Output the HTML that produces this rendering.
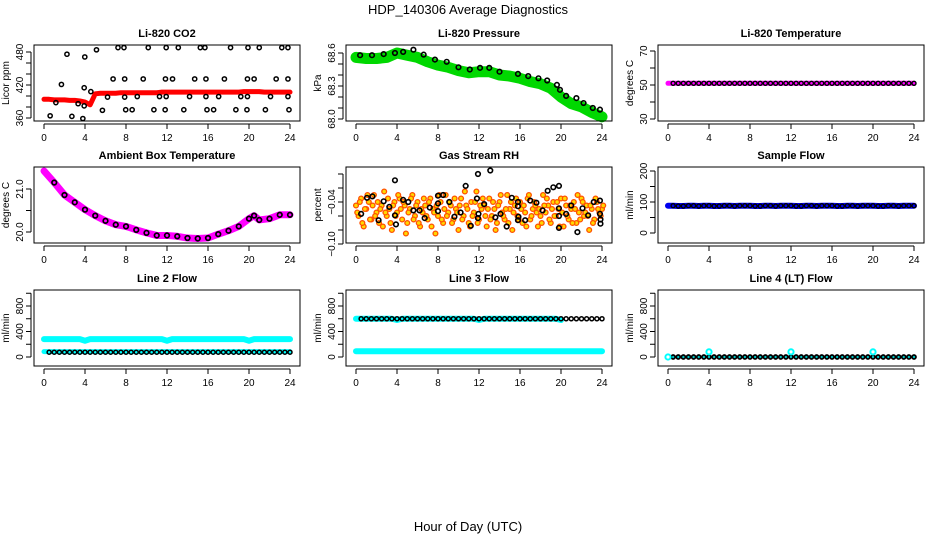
<!DOCTYPE html>
<html><head><meta charset="utf-8"><style>
html,body{margin:0;padding:0;background:#fff;}
svg{display:block;font-family:"Liberation Sans",sans-serif;}
</style></head><body>
<svg id="chart" width="936" height="540" viewBox="0 0 936 540" xmlns="http://www.w3.org/2000/svg">
<text x="468" y="14" text-anchor="middle" font-size="13">HDP_140306  Average Diagnostics</text>
<text x="468" y="531" text-anchor="middle" font-size="13">Hour of Day (UTC)</text>
</svg>
<script>
// ---------- data ----------
const xTicks = [0,4,8,12,16,20,24];
// CO2
const co2Red = [394,394,393,393,393,392,392,391,389,384,404,405,405,405,405,406,406,406,406,406,406,406,406,407,407,407,407,407,407,407,407,407,407,407,407,407,407,407,407,408,408,408,408,407,407,407,407,407,407];
const co2Hours = [0.6,2.24,1.16,1.7,2.72,3.33,3.79,3.98,3.92,3.92,4.57,5.12,5.7,6.2,6.74,7.22,7.8,7.87,7.87,7.97,8.6,9.1,9.68,10.17,10.72,11.27,11.82,11.85,11.92,11.92,12.54,13.1,13.64,14.2,14.7,15.25,15.7,15.8,15.9,15.8,16.55,17.04,17.6,18.2,18.72,19.2,19.8,19.85,19.85,19.9,20.5,21,21.6,22.1,22.65,23.2,23.8,23.8,23.8,23.9];
const co2Vals = [364,476,388,421,363,386,359,471,415,382,408,484,374,398,431,488,488,431,398,375,375,399,431,488,375,399,375,431,488,399,431,488,375,399,431,488,488,431,375,399,375,399,431,488,375,399,375,431,399,488,431,488,375,399,431,488,488,431,399,375];
// Pressure
const presGreen = [68.56,68.55,68.55,68.56,68.60,68.58,68.56,68.52,68.49,68.47,68.44,68.42,68.43,68.43,68.40,68.39,68.37,68.34,68.32,68.28,68.20,68.14,68.11,68.06,68.02];
const presHours = [0.4,1.56,2.7,3.8,4.6,5.6,6.6,7.7,8.85,10,11.1,12.1,13,14,15.8,16.8,17.8,18.65,19.6,19.9,20.5,21.5,22.2,23.1,23.8];
const presVals = [68.58,68.58,68.59,68.60,68.61,68.63,68.585,68.54,68.52,68.47,68.45,68.465,68.465,68.43,68.41,68.39,68.37,68.35,68.31,68.265,68.21,68.19,68.145,68.10,68.085];
// Li-820 temperature
const tempVals = [51,51,51,51,51,51,51,51,51,51,51,51,51,51,51,51,51,51,51,51,51,51,51,51,51,51,51,51,51,51,51,51,51,51,51,51,51,51,51,51,51,51,51,51,51,51,51,51,51];
// Ambient box temperature
const ambHours = [0,1,2,3,4,5,6,7,8,9,10,11,12,13,14,15,16,17,18,19,20,20.5,21,22,23,24];
const ambVals = [21.42,21.15,20.86,20.69,20.52,20.38,20.26,20.17,20.13,20.05,19.98,19.92,19.92,19.90,19.86,19.85,19.86,19.95,20.03,20.13,20.31,20.38,20.28,20.31,20.40,20.40];
// Gas stream RH (quarter-hour samples)
const rhA = [-0.045,-0.06,-0.035,-0.075,-0.05,-0.04,-0.065,-0.03,-0.055,-0.07,-0.045,-0.025,-0.06,-0.05,-0.08,-0.04,-0.055,-0.035,-0.065,-0.045,-0.07,-0.05,-0.03,-0.06,-0.04,-0.075,-0.055,-0.045,-0.065,-0.035,-0.05,-0.085,-0.06,-0.04,-0.07,-0.03,-0.055,-0.045,-0.065,-0.05,-0.08,-0.035,-0.06,-0.045,-0.07,-0.04,-0.055,-0.025,-0.065,-0.05,-0.045,-0.075,-0.035,-0.06,-0.05,-0.07,-0.04,-0.055,-0.065,-0.03,-0.05,-0.08,-0.045,-0.06,-0.04,-0.07,-0.055,-0.035,-0.065,-0.05,-0.045,-0.075,-0.06,-0.03,-0.055,-0.045,-0.07,-0.04,-0.06,-0.05,-0.035,-0.075,-0.045,-0.065,-0.05,-0.04,-0.07,-0.055,-0.035,-0.06,-0.045,-0.08,-0.05,-0.065,-0.04,-0.055,-0.05];
const rhB = [-0.055,-0.04,-0.07,-0.05,-0.03,-0.065,-0.045,-0.06,-0.04,-0.05,-0.075,-0.055,-0.035,-0.07,-0.045,-0.06,-0.03,-0.05,-0.04,-0.085,-0.055,-0.035,-0.065,-0.045,-0.07,-0.05,-0.035,-0.06,-0.04,-0.075,-0.055,-0.045,-0.03,-0.065,-0.05,-0.06,-0.04,-0.07,-0.035,-0.055,-0.045,-0.065,-0.025,-0.05,-0.075,-0.06,-0.04,-0.07,-0.045,-0.035,-0.06,-0.05,-0.065,-0.04,-0.08,-0.045,-0.03,-0.06,-0.05,-0.07,-0.04,-0.055,-0.035,-0.065,-0.05,-0.045,-0.075,-0.03,-0.06,-0.04,-0.055,-0.05,-0.07,-0.045,-0.035,-0.065,-0.05,-0.06,-0.04,-0.075,-0.055,-0.035,-0.06,-0.045,-0.07,-0.05,-0.03,-0.065,-0.04,-0.055,-0.06,-0.045,-0.07,-0.035,-0.05,-0.06,-0.045];
const rhBlackHours = [0.5,1.07,1.6,2.2,2.7,3.25,3.8,3.8,3.9,4.6,5.1,5.6,6.2,6.7,7.2,8,8,8,8.5,9.1,9.6,10.2,10.7,11.2,11.8,11.9,11.9,11.95,12.5,13.1,13.6,14.1,14.7,15.2,15.8,15.8,15.8,15.85,16.5,17,17.6,18.2,18.7,19.25,19.8,19.8,19.8,19.8,20.5,21,21.6,22.1,22.65,23.2,23.8,23.8,23.85,23.85];
const rhBlackVals = [-0.057,-0.034,-0.032,-0.066,-0.039,-0.047,-0.009,-0.059,-0.072,-0.037,-0.04,-0.052,-0.052,-0.063,-0.048,-0.031,-0.053,-0.042,-0.03,-0.04,-0.061,-0.055,-0.017,-0.074,-0.035,0.0,-0.063,-0.057,-0.043,0.005,-0.062,-0.057,-0.075,-0.034,-0.04,-0.046,-0.066,-0.061,-0.066,-0.038,-0.041,-0.052,-0.024,-0.019,-0.017,-0.049,-0.06,-0.077,-0.057,-0.045,-0.083,-0.049,-0.059,-0.04,-0.038,-0.057,-0.065,-0.071];
// Flows (half-hour samples)
const sampleFlow = [88,88,87,87,88,88,87,88,88,87,87,88,88,87,88,88,88,87,87,88,88,87,88,88,88,87,87,88,88,87,88,88,88,87,87,88,88,87,88,88,88,87,87,88,88,87,88,88,88];
const line2High = [280,280,280,280,280,280,280,280,255,280,280,280,280,280,280,280,280,280,280,280,280,280,280,280,255,280,280,280,280,280,280,280,280,280,280,280,280,280,280,280,255,280,280,280,280,280,280,280,280];
const line2Low = [85,85,85,85,85,85,85,85,85,85,85,85,85,85,85,85,85,85,85,85,85,85,85,85,85,85,85,85,85,85,85,85,85,85,85,85,85,85,85,85,85,85,85,85,85,85,85,85,85];
const line2Black = [75,75,75,75,75,75,75,75,75,75,75,75,75,75,75,75,75,75,75,75,75,75,75,75,75,75,75,75,75,75,75,75,75,75,75,75,75,75,75,75,75,75,75,75,75,75,75,75,75];
const line3High = [600,600,600,600,600,600,600,600,580,600,600,600,600,600,600,600,600,600,600,600,600,600,600,600,580,600,600,600,600,600,600,600,600,600,600,600,600,600,600,600,580];
const line3Black = [600,600,600,600,600,600,600,600,600,600,600,600,600,600,600,600,600,600,600,600,600,600,600,600,600,600,600,600,600,600,600,600,600,600,600,600,600,600,600,600,600,600,600,600,600,600,600,600,600];
const line3Low = [90,90,90,90,90,90,90,90,90,90,90,90,90,90,90,90,90,90,90,90,90,90,90,90,90,90,90,90,90,90,90,90,90,90,90,90,90,90,90,90,90,90,90,90,90,90,90,90,90];
const line4Black = [0,0,0,0,0,0,0,0,0,0,0,0,0,0,0,0,0,0,0,0,0,0,0,0,0,0,0,0,0,0,0,0,0,0,0,0,0,0,0,0,0,0,0,0,0,0,0,0,0];
const line4CyanHours = [0,4,12,20];
const line4CyanVals = [0,80,80,80];

// ---------- drawing ----------
const svg = document.getElementById('chart');
const NS = 'http://www.w3.org/2000/svg';
function mk(tag, attrs, parent){const e=document.createElementNS(NS,tag);for(const k in attrs)e.setAttribute(k,attrs[k]);(parent||svg).appendChild(e);return e;}
const colL=[34,346,658], rowT=[45,167,290], BW=266, BH=76;

function panel(col,row,title,ylab,yTicksArr,yLabArr,yA,yB,name){
  const L=colL[col], T=rowT[row], R=L+BW, B=T+BH;
  const g=mk('g',{});
  
  
  const xs=h=>L+10+h*(BW-20)/24;
  const ys=v=>yA[1]+(v-yA[0])*(yB[1]-yA[1])/(yB[0]-yA[0]);
  const t=mk('text',{x:(L+R)/2,y:T-8,'text-anchor':'middle','font-size':11,'font-weight':'bold'},g);t.textContent=title;
  
  
  const yl=mk('text',{x:0,y:0,'text-anchor':'middle','font-size':10,transform:`translate(${L-25},${(T+B)/2}) rotate(-90)`},g);yl.textContent=ylab;
  
  
  const plot=mk('g',{},g);
  
  
  const xa=mk('g',{},g);
  
  
  mk('line',{x1:xs(0),x2:xs(24),y1:B+3,y2:B+3,stroke:'#000','stroke-width':1},xa);
  xTicks.forEach(h=>{mk('line',{x1:xs(h),x2:xs(h),y1:B+3,y2:B+8,stroke:'#000'},xa);
    const tl=mk('text',{x:xs(h),y:B+20,'text-anchor':'middle','font-size':10},xa);tl.textContent=h;
    
    });
  const ya=mk('g',{},g);
  
  
  mk('line',{x1:L-3,x2:L-3,y1:ys(yTicksArr[0]),y2:ys(yTicksArr[yTicksArr.length-1]),stroke:'#000'},ya);
  yTicksArr.forEach(v=>mk('line',{x1:L-8,x2:L-3,y1:ys(v),y2:ys(v),stroke:'#000'},ya));
  yLabArr.forEach(([v,s])=>{const tl=mk('text',{x:0,y:0,'text-anchor':'middle','font-size':10,transform:`translate(${L-11},${ys(v)}) rotate(-90)`},ya);tl.textContent=s;
    
    });
  return {g,plot,xs,ys,L,T,R,B};
}
function frame(p){mk('rect',{x:p.L,y:p.T,width:BW,height:BH,fill:'none',stroke:'#000','stroke-width':1},p.g);}
function band(p,hours,vals,color,w,name){
  const pts=vals.map((v,i)=>p.xs(hours[i])+','+p.ys(v)).join(' ');
  const e=mk('polyline',{points:pts,fill:'none',stroke:color,'stroke-width':w,'stroke-linejoin':'round','stroke-linecap':'round'},p.plot);
  
  
}
function pts(p,hours,vals,color,r,sw,name,fill){
  vals.forEach((v,i)=>{const c=mk('circle',{cx:p.xs(hours[i]),cy:p.ys(v),r:r,fill:fill||'none',stroke:color,'stroke-width':sw},p.plot);
    
    });
}
const half=a=>a.map((_,i)=>i*0.5);
const quarter=a=>a.map((_,i)=>i*0.25);
const after=(a,start)=>a.map((_,i)=>start+i*0.5);

let p=panel(0,0,'Li-820 CO2','Licor ppm',[360,380,400,420,440,460,480],[[360,'360'],[420,'420'],[480,'480']],[360,118],[480,52],'co2');
band(p,half(co2Red),co2Red,'#f00',5,'co2-red-series');
pts(p,co2Hours,co2Vals,'#000',2.1,1.5,'co2-point');frame(p);

p=panel(1,0,'Li-820 Pressure','kPa',[68.0,68.1,68.2,68.3,68.4,68.5,68.6],[[68.0,'68.0'],[68.3,'68.3'],[68.6,'68.6']],[68.0,119],[68.6,53],'pressure');
band(p,presGreen.map((_,i)=>i),presGreen,'#00d800',11,'pressure-green-series');
pts(p,presHours,presVals,'#000',2.3,1.6,'pressure-point');frame(p);

p=panel(2,0,'Li-820 Temperature','degrees C',[30,40,50,60,70],[[30,'30'],[50,'50'],[70,'70']],[30,119],[70,51],'li820-temp');
band(p,half(tempVals),tempVals,'#f0f',5,'temp-magenta-series');
pts(p,after(tempVals.slice(1),0.5),tempVals.slice(1),'#000',2,1.4,'temp-point');frame(p);

p=panel(0,1,'Ambient Box Temperature','degrees C',[20.0,20.5,21.0],[[20.0,'20.0'],[21.0,'21.0']],[20.0,232],[21.0,189],'ambient-temp');
band(p,ambHours,ambVals,'#f0f',7,'ambient-magenta-series');
pts(p,ambHours.slice(1),ambVals.slice(1),'#000',2.3,1.7,'ambient-point');frame(p);

p=panel(1,1,'Gas Stream RH','percent',[-0.10,-0.08,-0.06,-0.04,-0.02,0.0],[[-0.10,'\u22120.10'],[-0.04,'\u22120.04']],[-0.10,244],[-0.04,202],'rh');
pts(p,quarter(rhA),rhA,'#ff5000',2.4,1.3,'rh-orange-point','#ffd800');
pts(p,quarter(rhB).map(h=>h+0.12),rhB,'#ff5000',2.4,1.3,'rh-orange-point','#ffd800');
pts(p,rhBlackHours,rhBlackVals,'#000',2.3,1.6,'rh-black-point');frame(p);

p=panel(2,1,'Sample Flow','ml/min',[0,50,100,150,200],[[0,'0'],[100,'100'],[200,'200']],[0,233],[200,171],'sample-flow');
band(p,half(sampleFlow),sampleFlow,'#0000ee',6,'sample-flow-blue-series');
pts(p,after(sampleFlow.slice(1),0.5),sampleFlow.slice(1),'#000',2,1.4,'sample-flow-point');frame(p);

const flowT=[0,200,400,600,800,1000],flowL=[[0,'0'],[400,'400'],[800,'800']];
p=panel(0,2,'Line 2 Flow','ml/min',flowT,flowL,[0,357],[800,306],'line2-flow');
band(p,half(line2High),line2High,'#00ffff',6,'line2-cyan-high-series');
band(p,half(line2Low),line2Low,'#00ffff',5,'line2-cyan-low-series');
pts(p,after(line2Black.slice(1),0.5),line2Black.slice(1),'#000',2,1.5,'line2-point');frame(p);

p=panel(1,2,'Line 3 Flow','ml/min',flowT,flowL,[0,357],[800,306],'line3-flow');
band(p,half(line3High),line3High,'#00ffff',6,'line3-cyan-high-series');
band(p,half(line3Low),line3Low,'#00ffff',6,'line3-cyan-low-series');
pts(p,after(line3Black.slice(1),0.5),line3Black.slice(1),'#000',2,1.5,'line3-point');frame(p);

p=panel(2,2,'Line 4 (LT) Flow','ml/min',flowT,flowL,[0,357],[800,306],'line4-flow');
pts(p,after(line4Black.slice(1),0.5),line4Black.slice(1),'#000',2,1.7,'line4-point','#00c8c8');
pts(p,line4CyanHours,line4CyanVals,'#00ffff',2.6,2,'line4-cyan-point');frame(p);
</script>
</body></html>
